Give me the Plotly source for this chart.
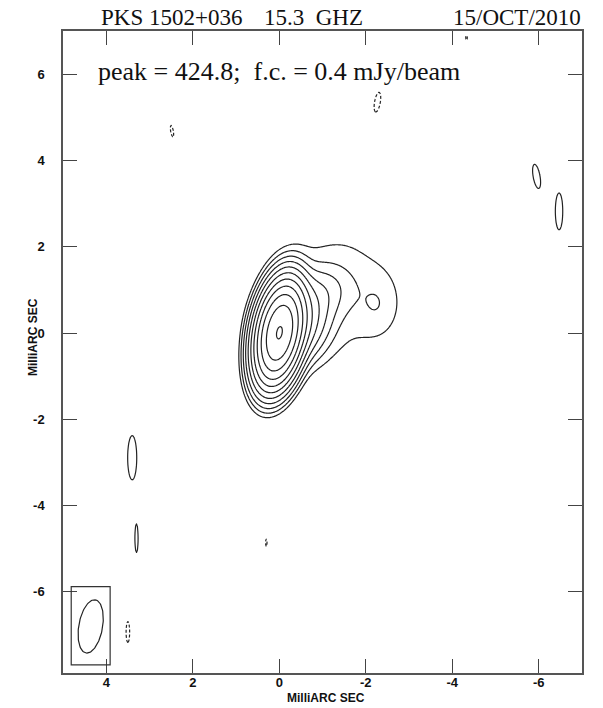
import numpy as np
import plotly.graph_objects as go

# ---- map metadata -------------------------------------------------------
SOURCE = "PKS 1502+036"
FREQ = "15.3  GHZ"
DATE = "15/OCT/2010"
PEAK = 424.8          # mJy/beam
FC = 0.4              # first contour, mJy/beam
N_LEVELS = 11         # FC * 2**k, k = 0..10
AXIS_TITLE = "MilliARC SEC"
X_TICKS = [4, 2, 0, -2, -4, -6]
Y_TICKS = [-6, -4, -2, 0, 2, 4, 6]

# restoring beam (FWHM major, minor in mas, PA in deg)
BEAM_MAJ = 1.25
BEAM_MIN = 0.55
BEAM_PA = -10.0

# ---- Gaussian model components (x = relative RA, y = relative Dec, mas) --
comp_x    = [0.00, -0.35, -0.90, -1.20, -2.30]
comp_y    = [0.00,  0.25,  0.90,  0.85,  0.65]
comp_amp  = [424.8, 15.0,  2.0,   0.65,  0.50]
comp_maj  = [BEAM_MAJ, 1.10, 1.00, 2.90, 1.20]
comp_min  = [BEAM_MIN, 0.85, 0.80, 2.20, 0.80]
comp_pa   = [BEAM_PA, -20.0, -60.0, -20.0, 0.0]

# residual noise peaks above / below the first contour
noise_x   = [-5.95, -6.47, 3.40, 3.30,  2.48, -2.27, 0.30, 3.50, -4.33]
noise_y   = [ 3.63,  2.82, -2.89, -4.79, 4.68, 5.35, -4.86, -6.93, 6.85]
noise_amp = [ 0.50,  0.50, 0.50, 0.50, -0.46, -0.48, -0.44, -0.48, -0.43]
noise_maj = [ 1.00,  1.50, 1.80, 1.00,  0.60,  0.90,  0.45,  0.95,  0.30]
noise_min = [ 0.28,  0.30, 0.37, 0.12,  0.14,  0.26,  0.10,  0.16,  0.12]
noise_pa  = [ 10.0,   0.0,  0.0,  0.0,  10.0, -10.0,   0.0,   0.0,  0.0]


def gauss2d(X, Y, x0, y0, amp, fmaj, fmin, pa_deg):
    pa = np.radians(pa_deg)
    dx, dy = X - x0, Y - y0
    u = dx * np.sin(pa) + dy * np.cos(pa)
    v = dx * np.cos(pa) - dy * np.sin(pa)
    smaj, smin = fmaj / 2.3548, fmin / 2.3548
    return amp * np.exp(-0.5 * ((u / smaj) ** 2 + (v / smin) ** 2))


xs = np.arange(5.0, -7.0001, -0.02)
ys = np.arange(-7.9, 7.0001, 0.02)
X, Y = np.meshgrid(xs, ys)

src = np.zeros_like(X)
for p in zip(comp_x, comp_y, comp_amp, comp_maj, comp_min, comp_pa):
    src += gauss2d(X, Y, *p)
src *= PEAK / src.max()

img = src.copy()
for p in zip(noise_x, noise_y, noise_amp, noise_maj, noise_min, noise_pa):
    img += gauss2d(X, Y, *p)

# positive contours on a log2 scale: level k <-> FC * 2**k
zpos = np.log2(np.clip(img, 1e-9, None) / FC).astype(np.float32)
zneg = (-img).astype(np.float32)

fig = go.Figure()
fig.add_trace(go.Contour(
    x=xs, y=ys, z=zpos,
    contours=dict(start=0, end=N_LEVELS - 1, size=1, coloring="none"),
    line=dict(color="#222222", width=1.2),
    showscale=False, hoverinfo="skip",
))
fig.add_trace(go.Contour(
    x=xs, y=ys, z=zneg,
    contours=dict(start=FC, end=FC, size=1, coloring="none"),
    line=dict(color="#222222", width=1.2, dash="3px,2px"),
    showscale=False, hoverinfo="skip",
))

# beam ellipse in the lower-left corner
bx, by = 4.36, -6.80
t = np.linspace(0, 2 * np.pi, 120)
pa = np.radians(BEAM_PA)
u = BEAM_MAJ / 2 * np.cos(t)
v = BEAM_MIN / 2 * np.sin(t)
fig.add_trace(go.Scatter(
    x=bx + u * np.sin(pa) + v * np.cos(pa),
    y=by + u * np.cos(pa) - v * np.sin(pa),
    mode="lines", line=dict(color="#222222", width=1.2),
    hoverinfo="skip", showlegend=False,
))
fig.add_shape(type="rect", x0=4.81, x1=3.91, y0=-7.69, y1=-5.88,
              line=dict(color="#333333", width=1.2))

L, R, T, B = 63, 582, 31, 673
W, H = 603, 708


def px(xp):
    return (xp - L) / (R - L)


def py(yp):
    return (B - yp) / (B - T)


bold = dict(family="Liberation Sans", size=13, color="#111111", weight="bold")
axis_common = dict(
    showgrid=False, zeroline=False, showline=True, linecolor="#555555",
    linewidth=1.5, mirror="ticks", ticks="inside", ticklen=14,
    tickwidth=1.2, tickcolor="#444444", tickfont=bold,
)
fig.update_xaxes(range=[5.0, -7.0], tickvals=X_TICKS,
                 ticktext=[str(v) for v in X_TICKS], ticklabelstandoff=-3,
                 **axis_common)
fig.update_yaxes(range=[-7.88, 7.0], tickvals=Y_TICKS,
                 ticktext=[str(v) for v in Y_TICKS], ticklabelstandoff=14,
                 **axis_common)

serif = dict(family="Liberation Serif", size=23, color="#111111")
ann = [
    dict(text=SOURCE, x=px(99), y=py(17), xanchor="left"),
    dict(text=FREQ, x=px(262), y=py(17), xanchor="left"),
    dict(text=DATE, x=px(583), y=py(17), xanchor="right"),
    dict(text=f"peak = {PEAK};  f.c. = {FC} mJy/beam", x=px(96), y=py(72),
         xanchor="left", font=dict(serif, size=26)),
]
for a in ann:
    a.setdefault("font", serif)
    fig.add_annotation(xref="paper", yref="paper", yanchor="middle",
                       showarrow=False, **a)

fig.add_annotation(text=AXIS_TITLE, xref="paper", yref="paper",
                   x=px(326), y=py(698), xanchor="center", yanchor="middle",
                   showarrow=False, font=dict(bold, size=12))
fig.add_annotation(text=AXIS_TITLE, xref="paper", yref="paper",
                   x=px(33), y=py(337), xanchor="center", yanchor="middle",
                   textangle=-90, showarrow=False, font=dict(bold, size=12))

fig.update_layout(
    width=W, height=H, showlegend=False,
    margin=dict(l=L, r=W - R, t=T, b=H - B),
    paper_bgcolor="white", plot_bgcolor="white",
)

fig.write_html("out.html")
